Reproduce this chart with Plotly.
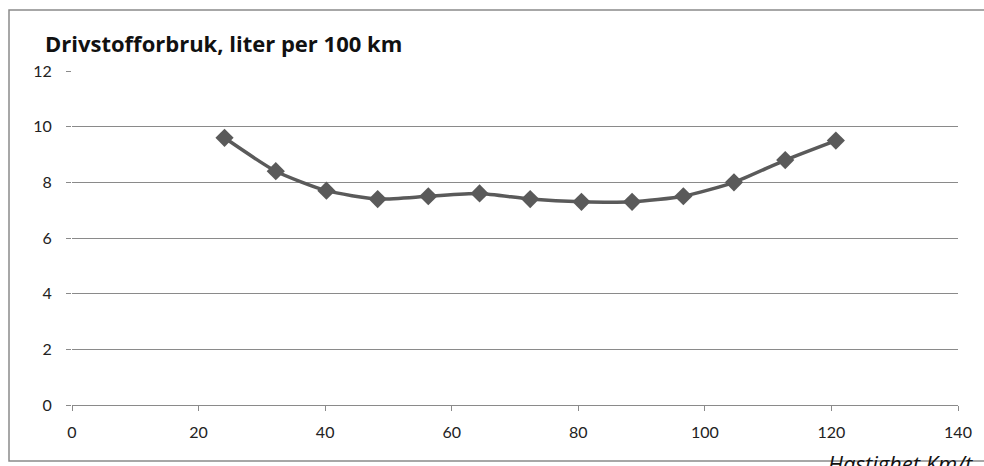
import plotly.graph_objects as go

speed_kmh = [24.1, 32.2, 40.2, 48.3, 56.3, 64.4, 72.4, 80.5, 88.5, 96.6, 104.6, 112.7, 120.7]
fuel_l100 = [9.6, 8.4, 7.7, 7.4, 7.5, 7.6, 7.4, 7.3, 7.3, 7.5, 8.0, 8.8, 9.5]
x_ticks = [0, 20, 40, 60, 80, 100, 120, 140]
y_ticks = [0, 2, 4, 6, 8, 10, 12]
title_text = "Drivstofforbruk, liter per 100 km"
x_title = "Hastighet Km/t"

FONT = "Lato, Open Sans, sans-serif"
TFONT = "Open Sans, Lato, sans-serif"
W, H = 984, 466
L, R, T, B = 72, 26, 71, 61
pw, ph = W - L - R, H - T - B

def px(xp):
    return (xp - L) / pw

def py(yp):
    return (H - B - yp) / ph

fig = go.Figure()
fig.add_trace(go.Scatter(
    x=speed_kmh, y=fuel_l100, mode="lines+markers",
    line=dict(color="#5a5a5a", width=3.5, shape="spline", smoothing=0.6),
    marker=dict(symbol="diamond", size=14, color="#5a5a5a"),
    showlegend=False, hoverinfo="x+y",
))

fig.update_layout(
    width=W, height=H,
    margin=dict(l=L, r=R, t=T, b=B),
    paper_bgcolor="white", plot_bgcolor="white",
    font=dict(family=FONT, size=16, color="#222222"),
    xaxis=dict(
        range=[0, 140], tickvals=x_ticks, ticktext=[str(v) for v in x_ticks],
        showgrid=False, zeroline=False,
        showline=True, linecolor="#8a8a8a", linewidth=1,
        ticks="outside", ticklen=5, tickcolor="#8a8a8a",
        ticklabelstandoff=8,
        tickfont=dict(size=16, family=FONT, color="#222222"),
    ),
    yaxis=dict(
        range=[0, 12], tickvals=y_ticks, ticktext=[str(v) for v in y_ticks],
        showgrid=True, gridcolor="#8a8a8a", gridwidth=1,
        zeroline=False, showline=False,
        ticks="outside", ticklen=5, tickcolor="#8a8a8a",
        ticklabelstandoff=11,
        tickfont=dict(size=16, family=FONT, color="#222222"),
    ),
    shapes=[dict(
        type="rect", xref="paper", yref="paper",
        x0=px(9), x1=px(995), y0=py(461), y1=py(10),
        line=dict(color="#8a8a8a", width=1.5), fillcolor="rgba(0,0,0,0)",
        layer="below",
    )],
    annotations=[
        dict(text="<b>" + title_text + "</b>", xref="paper", yref="paper",
             x=px(43), y=py(43), xanchor="left", yanchor="middle",
             showarrow=False, font=dict(size=22, family=TFONT, color="#111111")),
        dict(text="<i>" + x_title + "</i>", xref="paper", yref="paper",
             x=px(975), y=py(446), xanchor="right", yanchor="top",
             showarrow=False, font=dict(size=22, family=TFONT, color="#111111")),
    ],
)

fig.write_html("out.html", config={"displayModeBar": False},
               post_script="document.body.style.margin='0';document.body.style.overflow='hidden';")
